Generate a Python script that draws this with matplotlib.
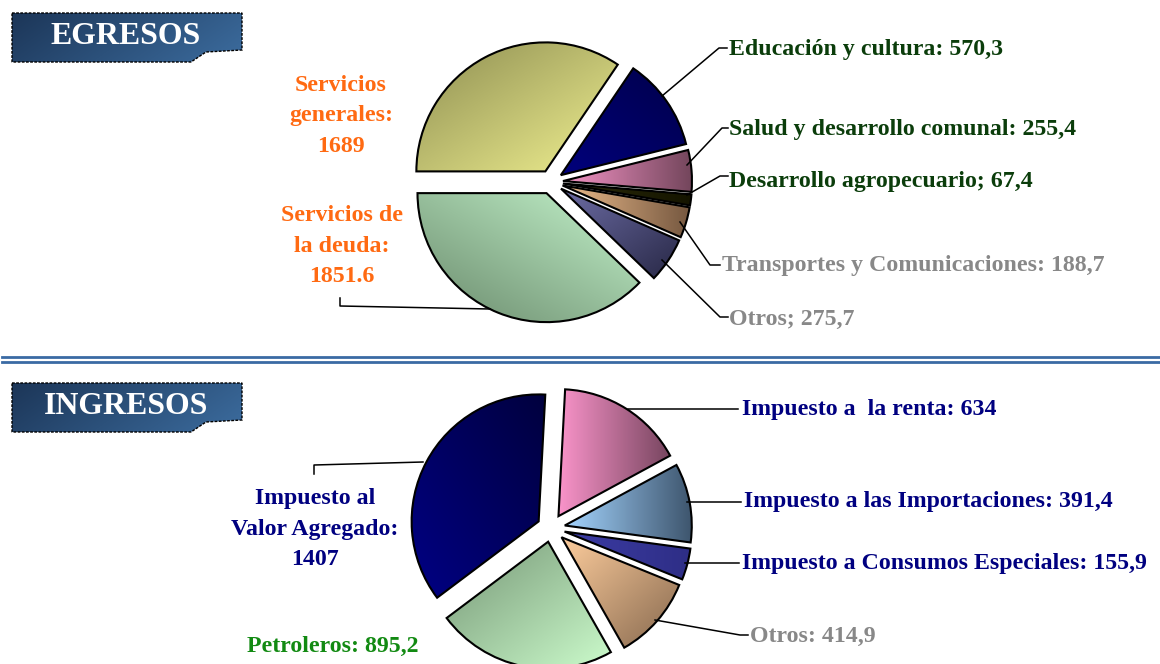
import numpy as np
import matplotlib
matplotlib.use('Agg')
import matplotlib.pyplot as plt
from matplotlib.colors import to_rgb
from matplotlib.patches import Polygon

W, H = 1160, 664
FONT = 'Liberation Serif'

# --- EGRESOS (drawn clockwise from 9 o'clock)
egr_names = ['Servicios generales', 'Educación y cultura', 'Salud y desarrollo comunal',
             'Desarrollo agropecuario', 'Transportes y Comunicaciones', 'Otros',
             'Servicios de la deuda']
egr_values = [1689, 570.3, 255.4, 67.4, 188.7, 275.7, 1851.6]
egr_labels = ['Servicios\ngenerales:\n1689', 'Educación y cultura: 570,3',
              'Salud y desarrollo comunal: 255,4', 'Desarrollo agropecuario; 67,4',
              'Transportes y Comunicaciones: 188,7', 'Otros; 275,7',
              'Servicios de\nla deuda:\n1851.6']

# --- INGRESOS (drawn clockwise from 12 o'clock)
ing_names = ['Impuesto a la renta', 'Impuesto a las Importaciones',
             'Impuesto a Consumos Especiales', 'Otros', 'Petroleros',
             'Impuesto al Valor Agregado']
ing_values = [634, 391.4, 155.9, 414.9, 895.2, 1407]
ing_labels = ['Impuesto a  la renta: 634', 'Impuesto a las Importaciones: 391,4',
              'Impuesto a Consumos Especiales: 155,9', 'Otros: 414,9',
              'Petroleros: 895,2', 'Impuesto al\nValor Agregado:\n1407']

# gradient colours per slice: (start, end, direction in picture coords)
egr_fill = [('#8e8e52', '#f0f090', (1, 1)),
            ('#00007c', '#00004a', (1, -1)),
            ('#f494c6', '#74465c', (1, 0)),
            ('#2c2c0a', '#141400', (1, 0)),
            ('#ecbc8c', '#765840', (1, 0)),
            ('#6c6ca4', '#282846', (1, 1)),
            ('#6a8a6c', '#c4f4cc', (1, -1))]
ing_fill = [('#fa94ca', '#784660', (1, 0)),
            ('#a4d4ff', '#3e566e', (1, 0)),
            ('#3c3ca4', '#2e2e86', (1, 0)),
            ('#fccc9c', '#86684e', (1, 1)),
            ('#769676', '#ccfccc', (1, 1)),
            ('#000084', '#00003e', (1, -1))]


def grad_fill(ax, patch, c0, c1, d, z):
    ext = patch.get_path().get_extents(patch.get_patch_transform())
    n = 80
    X, Y = np.meshgrid(np.linspace(0, 1, n), np.linspace(0, 1, n))
    t = X * d[0] + Y * d[1]
    t = (t - t.min()) / (t.max() - t.min())
    a, b = np.array(to_rgb(c0)), np.array(to_rgb(c1))
    img = a + (b - a) * t[..., None]
    im = ax.imshow(img, extent=(ext.x0, ext.x1, ext.y1, ext.y0), origin='upper',
                   interpolation='bilinear', aspect='auto', zorder=z)
    im.set_clip_path(patch)


fig = plt.figure(figsize=(W / 100, H / 100), dpi=100)
ax = fig.add_axes([0, 0, 1, 1])

# y axis is inverted later (picture coords), so counterclock=True turns clockwise
# explode is in data units (pixels) here
w_egr, _ = ax.pie(egr_values, startangle=180, counterclock=True, center=(551, 182),
                  radius=129, explode=[12] * len(egr_values))
w_ing, _ = ax.pie(ing_values, startangle=-87, counterclock=True, center=(551, 528),
                  radius=127, explode=[14] * len(ing_values))

for wedges, fills in [(w_egr, egr_fill), (w_ing, ing_fill)]:
    for w, (c0, c1, d) in zip(wedges, fills):
        grad_fill(ax, w, c0, c1, d, 2)
        w.set_facecolor('none')
        w.set_edgecolor('black')
        w.set_linewidth(1.5)
        w.set_zorder(3)

# labels and leader lines
green, grey, orange, navy = '#0b3d0b', '#888888', '#ff6a12', '#000080'
fs = 17.2
egr_pos = [(341, 116, orange, 'center'), (729, 49, green, 'left'), (729, 129, green, 'left'),
           (729, 181, green, 'left'), (722, 266, grey, 'left'), (729, 319, grey, 'left'),
           (342, 246, orange, 'center')]
egr_lines = [None,
             [(662, 96), (719, 48), (727, 48)],
             [(687, 165), (722, 128), (728, 128)],
             [(687, 195), (720, 176), (728, 176)],
             [(680, 222), (710, 265), (720, 265)],
             [(662, 260), (720, 317), (728, 317)],
             [(340, 298), (340, 306), (490, 309)]]
ing_pos = [(742, 410, navy, 'left'), (744, 501, navy, 'left'), (742, 564, navy, 'left'),
           (750, 636, grey, 'left'), (333, 646, '#128a12', 'center'),
           (315, 529, navy, 'center')]
ing_lines = [[(628, 409), (738, 409)],
             [(687, 502), (741, 502)],
             [(685, 563), (739, 563)],
             [(655, 620), (740, 635), (748, 635)],
             None,
             [(423, 462), (314, 465), (314, 474)]]

for labels, pos, lines in [(egr_labels, egr_pos, egr_lines), (ing_labels, ing_pos, ing_lines)]:
    for s, (x, y, c, ha), ln in zip(labels, pos, lines):
        ax.text(x, y, s, ha=ha, va='center', multialignment='center', color=c,
                fontsize=fs, fontweight='bold', family=FONT, linespacing=1.62, zorder=5)
        if ln:
            ax.plot([p[0] for p in ln], [p[1] for p in ln], color='black', lw=1.1, zorder=4)

# title banners
for title, y0 in [('EGRESOS', 13), ('INGRESOS', 383)]:
    ban = Polygon([(12, y0), (242, y0), (242, y0 + 37), (206, y0 + 39), (191, y0 + 49),
                   (12, y0 + 49)], closed=True, facecolor='none', edgecolor='black',
                  lw=1.0, linestyle=(0, (2, 1)), zorder=3)
    ax.add_patch(ban)
    grad_fill(ax, ban, '#1c3658', '#3c6c9e', (1, 0.3), 2)
    ax.text(126, y0 + 23, title, ha='center', va='center', color='white', fontsize=22.9,
            fontweight='bold', family=FONT, zorder=5)

# double separator
for y in (357, 362):
    ax.plot([2, W], [y, y], color='#3a6aa4', lw=2.0, zorder=1)

ax.set_xlim(0, W)
ax.set_ylim(H, 0)
ax.set_aspect('auto')
ax.axis('off')
fig.savefig('out.png', dpi=100)
